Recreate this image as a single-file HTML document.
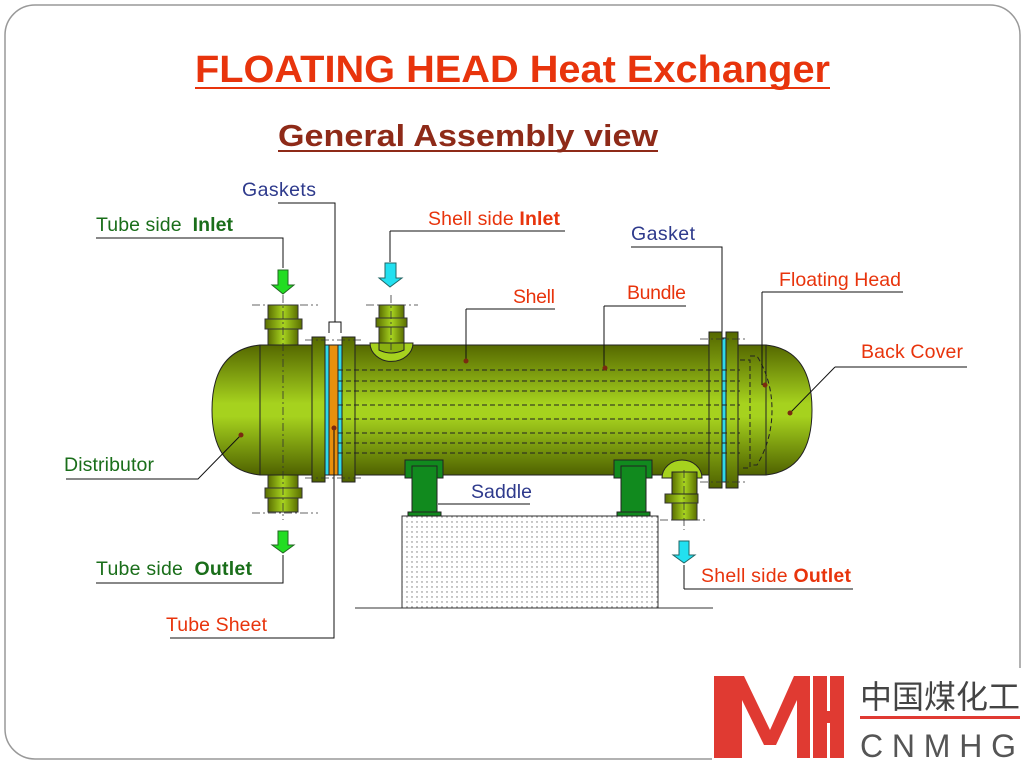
<!DOCTYPE html>
<html><head><meta charset="utf-8"><style>
html,body{margin:0;padding:0;background:#fff;}
svg{display:block;font-family:"Liberation Sans","Noto Sans CJK SC",sans-serif;}
</style></head><body>
<svg width="1026" height="769" viewBox="0 0 1026 769" xmlns="http://www.w3.org/2000/svg">
<defs>
<linearGradient id="g" x1="0" y1="0" x2="0" y2="1">
<stop offset="0" stop-color="#556800"/><stop offset="0.45" stop-color="#a6d21e"/><stop offset="0.55" stop-color="#a6d21e"/><stop offset="1" stop-color="#4f6200"/>
</linearGradient>
<linearGradient id="gh" x1="0" y1="0" x2="1" y2="0">
<stop offset="0" stop-color="#5a6e00"/><stop offset="0.5" stop-color="#a8d420"/><stop offset="1" stop-color="#5a6e00"/>
</linearGradient>
<pattern id="dots" width="5" height="5" patternUnits="userSpaceOnUse"><rect width="5" height="5" fill="#fff"/><circle cx="2" cy="2" r="0.7" fill="#777"/></pattern>
</defs>
<rect x="5" y="5" width="1015" height="754" rx="30" fill="#fff" stroke="#999" stroke-width="1.5"/>

<text x="195" y="82" font-size="38" font-weight="bold" fill="#e8340c" textLength="635" lengthAdjust="spacingAndGlyphs">FLOATING HEAD Heat Exchanger</text>
<line x1="195" y1="88" x2="830" y2="88" stroke="#e8340c" stroke-width="2"/>
<text x="278" y="146" font-size="31" font-weight="bold" fill="#8e2a18" textLength="380" lengthAdjust="spacingAndGlyphs">General Assembly view</text>
<line x1="278" y1="151" x2="658" y2="151" stroke="#8e2a18" stroke-width="2"/>

<!-- foundation -->
<rect x="402" y="516" width="256" height="92" fill="url(#dots)" stroke="#333"/>
<line x1="355" y1="608" x2="713" y2="608" stroke="#333"/>

<!-- nozzles -->
<g stroke="#333" stroke-width="1">
<rect x="268" y="305" width="30" height="45" fill="url(#gh)"/>
<rect x="265" y="319" width="37" height="10" fill="url(#gh)"/>
<rect x="268" y="470" width="30" height="42" fill="url(#gh)"/>
<rect x="265" y="488" width="37" height="10" fill="url(#gh)"/>
<rect x="379" y="305" width="25" height="40" fill="url(#gh)"/>
<rect x="376" y="318" width="31" height="9" fill="url(#gh)"/>
<rect x="672" y="470" width="25" height="50" fill="url(#gh)"/>
<rect x="665" y="494" width="33" height="9" fill="url(#gh)"/>
</g>

<!-- vessel -->
<g stroke="#222" stroke-width="1">
<path d="M260 345 Q212 350 212 410 Q212 470 260 475 Z" fill="url(#g)"/>
<rect x="260" y="345" width="52" height="130" fill="url(#g)"/>
<rect x="355" y="345" width="355" height="130" fill="url(#g)"/>
<rect x="738" y="345" width="28" height="130" fill="url(#g)"/>
<path d="M766 345 Q812 350 812 410 Q812 470 766 475 Z" fill="url(#g)"/>
<rect x="312" y="337" width="13" height="145" fill="url(#g)"/>
<rect x="325" y="345" width="4" height="130" fill="#30d8e8"/>
<rect x="329" y="345" width="9" height="130" fill="#e8900c"/>
<rect x="338" y="345" width="4" height="130" fill="#30d8e8"/>
<rect x="342" y="337" width="13" height="145" fill="url(#g)"/>
<rect x="709" y="332" width="13" height="156" fill="url(#g)"/>
<rect x="722" y="338" width="4" height="144" fill="#30d8e8"/>
<rect x="726" y="332" width="12" height="156" fill="url(#g)"/>
<path d="M370 343 A21 18 0 0 0 413 343 Z" fill="#a6d21e"/>
<path d="M379 343 H404 V350 Q391 356 379 350 Z" fill="#8ab010"/>
<path d="M662 478 A20 18 0 0 1 702 478 Z" fill="#a6d21e"/>
<rect x="672" y="472" width="25" height="22" fill="url(#gh)"/>
</g>
<g stroke="#222" stroke-width="1" stroke-dasharray="5,3" fill="none">
<line x1="338" y1="370" x2="740" y2="370"/><line x1="338" y1="381" x2="740" y2="381"/>
<line x1="338" y1="391" x2="740" y2="391"/><line x1="338" y1="405" x2="740" y2="405"/>
<line x1="338" y1="419" x2="740" y2="419"/><line x1="338" y1="433" x2="740" y2="433"/>
<line x1="338" y1="443" x2="740" y2="443"/><line x1="338" y1="453" x2="740" y2="453"/>
<path d="M740 360 L750 360 L750 468 L740 468"/>
<path d="M750 356 L757 356 Q772 380 772 410 Q772 440 757 465 L750 465"/>
</g>
<!-- centerlines -->
<g stroke="#333" stroke-width="0.8" stroke-dasharray="8,3,2,3">
<line x1="252" y1="305" x2="318" y2="305"/><line x1="252" y1="513" x2="318" y2="513"/>
<line x1="366" y1="305" x2="418" y2="305"/><line x1="660" y1="520" x2="705" y2="520"/>
<line x1="283" y1="295" x2="283" y2="520"/><line x1="391" y1="295" x2="391" y2="350"/>
<line x1="684" y1="470" x2="684" y2="530"/>
<line x1="305" y1="340" x2="362" y2="340"/><line x1="305" y1="478" x2="362" y2="478"/>
<line x1="700" y1="339" x2="748" y2="339"/><line x1="700" y1="482" x2="748" y2="482"/>
</g>

<!-- saddles -->
<g stroke="#222" stroke-width="1" fill="#118a1e">
<rect x="405" y="460" width="38" height="18"/><rect x="412" y="466" width="25" height="47"/><rect x="408" y="512" width="33" height="4"/>
<rect x="614" y="460" width="38" height="18"/><rect x="621" y="466" width="25" height="47"/><rect x="617" y="512" width="33" height="4"/>
</g>

<!-- arrows -->
<g stroke="#226622" stroke-width="1">
<path d="M278 270 H288 V285 H294 L283 294 L272 285 H278 Z" fill="#22dd22"/>
<path d="M278 531 H288 V545 H294 L283 553 L272 545 H278 Z" fill="#22dd22"/>
</g>
<g stroke="#226666" stroke-width="1">
<path d="M385 263 H396 V278 H402 L390 287 L379 278 H385 Z" fill="#22e0f0"/>
<path d="M679 541 H689 V555 H695 L684 563 L673 555 H679 Z" fill="#22e0f0"/>
</g>

<!-- leader lines -->
<g stroke="#111" stroke-width="1" fill="none">
<path d="M278 203 H335 V322"/><path d="M329 333 V322 H341 V333"/>
<path d="M96 238 H283 V268"/>
<path d="M390 231 H565"/><path d="M390 231 V262"/>
<path d="M631 247 H722 V332"/>
<path d="M762 292 H903"/><path d="M762 292 V385"/>
<path d="M835 367 H967"/><path d="M835 367 L790 413"/>
<path d="M466 309 H555"/><path d="M466 309 V360"/>
<path d="M604 306 H686"/><path d="M604 306 V368"/>
<path d="M66 479 H198 L241 435"/>
<path d="M438 504 H530"/>
<path d="M96 583 H283 V555"/>
<path d="M684 589 H853"/><path d="M684 589 V565"/>
<path d="M170 638 H334 V428"/>
</g>
<g fill="#7a2a10">
<circle cx="466" cy="361" r="2.5"/><circle cx="605" cy="368" r="2.5"/><circle cx="241" cy="435" r="2.5"/>
<circle cx="334" cy="428" r="2.5"/><circle cx="765" cy="385" r="2.5"/><circle cx="790" cy="413" r="2.5"/>
</g>

<!-- labels -->
<g font-size="19.5" lengthAdjust="spacingAndGlyphs">
<text x="242" y="196" fill="#2e3a8c" textLength="74">Gaskets</text>
<text x="96" y="231" fill="#1a6e1a" textLength="137">Tube side&#160;&#160;<tspan font-weight="bold">Inlet</tspan></text>
<text x="428" y="225" fill="#e8340c" textLength="132">Shell side <tspan font-weight="bold">Inlet</tspan></text>
<text x="631" y="240" fill="#2e3a8c" textLength="64">Gasket</text>
<text x="779" y="286" fill="#e8340c" textLength="122">Floating Head</text>
<text x="861" y="358" fill="#e8340c" textLength="102">Back Cover</text>
<text x="513" y="303" fill="#e8340c" textLength="42">Shell</text>
<text x="627" y="299" fill="#e8340c" textLength="59">Bundle</text>
<text x="64" y="471" fill="#1a6e1a" textLength="90">Distributor</text>
<text x="471" y="498" fill="#2e3a8c" textLength="61">Saddle</text>
<text x="96" y="575" fill="#1a6e1a" textLength="156">Tube side&#160;&#160;<tspan font-weight="bold">Outlet</tspan></text>
<text x="701" y="582" fill="#e8340c" textLength="150">Shell side <tspan font-weight="bold">Outlet</tspan></text>
<text x="166" y="631" fill="#e8340c" textLength="101">Tube Sheet</text>
</g>

<!-- logo -->
<rect x="712" y="668" width="314" height="101" fill="#fff"/>
<g fill="#e03a32">
<rect x="714" y="676" width="14" height="82"/>
<path d="M728 676 H744 L770 730 L794 676 H810 V758 H797 V700 L776 745 H764 L742 700 V758 H728 Z"/>
<rect x="813" y="676" width="14" height="82"/>
<rect x="830" y="676" width="14" height="82"/>
<rect x="813" y="711" width="31" height="12"/>
<rect x="860" y="716" width="160" height="3"/>
</g>
<text x="860" y="708" font-size="32" fill="#444" textLength="160" font-family="'Noto Sans CJK SC',sans-serif">中国煤化工</text>
<text x="860" y="757" font-size="32" fill="#555" textLength="160" letter-spacing="4">CNMHG</text>
</svg>
</body></html>
